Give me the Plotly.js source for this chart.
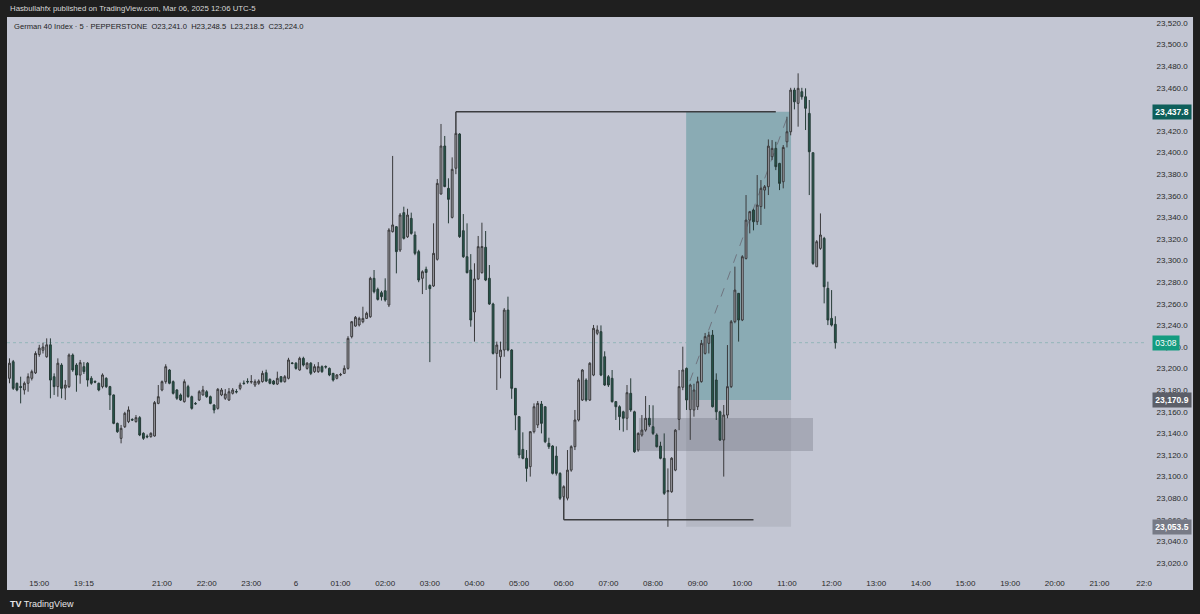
<!DOCTYPE html>
<html>
<head>
<meta charset="utf-8">
<script src="https://cdn.plot.ly/plotly-3.0.1.min.js"></script>
<style>html,body{margin:0;padding:0;background:#1f1f1f;}#chart{width:1200px;height:614px;}</style>
</head>
<body>
<div id="chart"></div>
<script>
// 5-minute candles, first candle index -41 (21:00 = index 0)
const firstIndex = -41;
const openP = [23191,23206.4,23186.4,23183.5,23180.2,23186.4,23191,23196,23213,23217,23211,23222,23192.5,23183.3,23203.3,23182,23183.3,23212.6,23203.3,23194,23201.8,23205,23191,23188.2,23186.4,23183.3,23191,23183.3,23175.6,23149.3,23135.4,23146.2,23150.9,23152.9,23150.9,23154.6,23140.1,23137.4,23137,23137.6,23167.8,
23180.2,23187.9,23198.7,23187.9,23180.2,23175.6,23169.4,23183.3,23174,23167.8,23170.9,23175.6,23178.6,23174,23166.3,23163.2,23175.6,23172.5,23170.9,23177.1,23178.8,23181.7,23186.6,23188.2,23187.5,23184.8,23186.4,23188,23196.2,23190,23188.5,23185.7,23192.5,23187.9,23191,23205.2,23205,23198.7,23209.5,23200.2,23205,23197.2,23197.2,23201.8,23201.9,23200.2,23195.6,23191,23194.2,23195.6,
23200.2,23229.6,23239.4,23240.4,23243.4,23246.5,23248,23283.6,23273.4,23270.3,23272.1,23258.9,23326.8,23331.4,23309.8,23344.4,23322,23339.1,23323.7,23308.3,23283.6,23291.9,23277,23276.5,23301.2,23361.7,23406.1,23366.9,23340,23385.5,23417.2,23327.7,23303.6,23291.3,23252.4,23283,23288.8,23312.3,23283.6,23259.8,23214.1,
23211,23217.2,23254.2,23217.2,23181.7,23155.5,23125.2,23116.9,23109.2,23141.6,23147.8,23167.2,23164.7,23130.8,23128.3,23119,23103,23081.4,23080,23106,23127.7,23152.4,23170.9,23189.4,23170.9,23194,23232.7,23234.2,23211,23192.5,23191,23169.4,23164.7,23160,23154,23177.1,23160,23124.6,23138.5,23143.1,23154,23146.2,23138.5,23128.3,23116.9,23086,23086,23106,23153,
23182.7,23200.2,23162,23161.7,23164.7,23187.9,23214.1,23223.4,23231,23189.4,23160,23133.9,23157,23183.3,23243.4,23269.7,23245,23302,23337.5,23346.8,23336,23350,23365.3,23368.4,23396.2,23403.9,23390,23373,23410,23419.3,23457.9,23445.6,23456.4,23451.7,23436.3,23399.9,23294.3,23311.3,23320.6,23274.3,23246.5,23241.0];
const highP = [23209.5,23208,23187,23192.5,23188,23195.6,23199,23216,23222,23224,23228,23228,23195.6,23209.5,23205,23189.4,23214,23214,23205,23208,23206,23206,23193,23189,23187,23195.6,23192,23184,23176,23150,23147.8,23160,23165,23154,23157,23156,23141,23139,23141,23170,23184.8,
23189,23204,23199.5,23189,23181,23177,23190,23185,23175,23169,23180,23184,23180,23175,23167,23182,23182,23181,23182,23182,23181,23187,23189,23191,23194,23190,23190,23198,23199,23191,23189.5,23197.2,23193,23194,23210,23206,23206,23211,23211,23206,23206,23204,23206,23203,23203,23201,23196,23195,23196,23203,
23230,23244,23248.7,23248,23257.3,23252.7,23285,23291.3,23275,23272,23283.6,23330,23396.9,23332,23344,23349.9,23348,23344.4,23327,23310,23291,23294.4,23278,23334.5,23375.5,23426.5,23415.4,23376.2,23395.6,23418,23418,23343.1,23334.5,23306,23297.5,23322.8,23335.1,23327.4,23295.9,23261,23225,
23225,23256,23266.6,23218,23182,23156,23141,23124.6,23142,23167.8,23170,23170,23165,23136,23129,23128,23104,23092,23124.6,23129,23161.7,23191,23199.5,23191,23206,23240.4,23240,23240,23216,23194,23198.7,23170,23166,23161,23184.8,23191,23161,23141,23157,23174.6,23166.3,23166,23140,23132.3,23140,23107.6,23118,23144,23198.7,
23220.3,23201,23186,23186,23192.5,23226.5,23233,23234.2,23235.7,23195.6,23161,23166.3,23221.8,23245,23294.4,23270,23305,23360.7,23346,23348,23379.2,23374.6,23370,23412.2,23411.6,23410,23390.5,23407,23433.2,23460,23460,23473.4,23460,23459.5,23448.7,23400,23319,23343.7,23322,23280.5,23272.7,23248.5];
const lowP = [23186.4,23180.2,23179,23167.8,23176,23178.6,23189,23195,23211,23214,23210,23172.5,23175.6,23174,23172.5,23171,23182,23197,23178.6,23186,23195,23183.3,23185,23186.5,23179,23181.7,23182,23161.7,23148.5,23140.5,23130.8,23145,23149.5,23151.5,23150,23137.5,23134,23135.5,23136,23137,23167,
23179,23186,23185.5,23176,23171,23170,23168.5,23173,23162,23166.5,23170,23175,23173,23167,23158.6,23162,23174.5,23171,23170,23176,23177,23180,23185,23186,23186,23183,23185,23187,23187.5,23185.5,23185,23184.8,23187,23187,23190,23204,23199,23198,23202,23199,23194,23196,23196,23196,23200,23193,23188,23190,23193,23195,
23199,23228,23238.8,23239,23242,23246,23247,23269.7,23263,23263,23262,23257,23326,23288.2,23308,23319.5,23321,23324,23305,23280,23269,23272.8,23206,23275.6,23300,23361,23368,23334.5,23339,23380,23321,23302.5,23288.2,23238.8,23225,23282,23288,23281,23259,23213,23180.2,
23191,23211,23216,23172,23143,23117,23116,23095.3,23100,23140,23145,23140,23131,23125.6,23102,23101,23078.3,23078,23078,23104.5,23124.6,23151,23170,23169.5,23170,23193,23231,23193,23184,23183,23168.5,23152.4,23143,23141.6,23143,23160,23122,23123,23137,23141.6,23146,23138.5,23127,23116,23083,23053.5,23085,23105,23143,
23180,23161.7,23134,23155.5,23161.7,23187,23213,23214,23164,23152.4,23133,23100,23154,23182,23242,23225,23244,23301,23325.2,23328,23333,23333,23348,23360.7,23393.1,23383.8,23365.3,23366.9,23404.8,23416,23440,23424,23449,23420.9,23360.7,23296,23294,23310,23260.4,23240.3,23239,23218.5];
const closeP = [23205,23181.7,23180.2,23182.5,23186.4,23192.5,23197.2,23214,23219,23220,23222,23189.4,23183.3,23205,23181.7,23184.8,23212.6,23198.7,23194,23205.5,23197.2,23189.4,23186.4,23187.5,23180.2,23194.1,23183.3,23175.6,23149.3,23141.6,23144.7,23158.6,23161.7,23152.4,23154.6,23138.5,23135.4,23136.8,23140.1,23168.5,23174,
23187.9,23201.8,23186.4,23177.1,23172.5,23170.9,23187.9,23174,23163.2,23167.4,23178.6,23180.2,23174,23167.8,23161.7,23180.8,23180.2,23176.5,23178.6,23180.2,23178.4,23184.8,23186.2,23187.7,23188,23187.9,23188.5,23195.6,23188.5,23186.4,23185.7,23191,23187.9,23192.5,23208,23204.8,23200.2,23209.5,23203.3,23205,23195.6,23201.8,23201.8,23197.2,23201.5,23194.1,23189.4,23194.1,23194.5,23200.2,
23228,23243.4,23247.5,23246.5,23246.5,23251.2,23283.6,23271.2,23264.1,23266.6,23263.5,23328.3,23333,23308.3,23342.2,23320.6,23342.2,23325.2,23306.7,23282,23289.7,23289,23274,23306.7,23371.5,23406.1,23368.5,23356.7,23384.5,23417.8,23322.2,23303.6,23288.8,23245,23283,23312.9,23313,23282,23259.8,23214.1,23221.8,
23217.2,23254.2,23217.2,23181.7,23157,23120,23116.9,23107.6,23141.6,23164.7,23167.8,23149.3,23132.3,23127.7,23103,23103,23079.9,23090.7,23106,23127.7,23152.4,23189.4,23198.7,23170.9,23204.9,23237.3,23235.8,23194,23184.8,23184.8,23169.4,23164.7,23155.5,23154,23177.7,23161.7,23123,23140,23143.1,23154,23147.8,23140,23127.7,23116.9,23084.5,23087,23117,23143,23183.3,
23198.7,23170.9,23184.8,23180.2,23187.9,23223.4,23229.6,23231,23164.7,23160,23133.9,23157,23183.3,23243.4,23272.7,23245,23303.6,23337.5,23345.3,23336,23351.4,23366.9,23368.4,23406,23403.9,23387,23371.5,23404.8,23419.3,23457.9,23447,23459.5,23451.7,23441,23400.8,23297.4,23317.5,23323.7,23275.8,23245,23240.3,23224.0];

const timeTickPos = [-33,-21,0,12,24,36,48,60,72,84,96,108,120,132,144,156,168,180,192,204,216,228,240,252,264];
const timeTickText = ["15:00","19:15","21:00","22:00","23:00","6","01:00","02:00","03:00","04:00","05:00","06:00","07:00","08:00","09:00","10:00","11:00","12:00","13:00","14:00","15:00","19:00","20:00","21:00","22:0"];

const targetPrice = 23437.8, entryPrice = 23170.9, stopPrice = 23053.5, lastPrice = 23224.0;

const barIndex = openP.map((_, k) => firstIndex + k);

const FONT = 'Liberation Sans, Arial, sans-serif';
const PANEL = '#c3c6d3';

const trace = {
  type: 'candlestick',
  x: barIndex, open: openP, high: highP, low: lowP, close: closeP,
  increasing: {line: {color: '#3a3a3c', width: 1}, fillcolor: '#a4a5ab'},
  decreasing: {line: {color: '#263b37', width: 1}, fillcolor: '#24584c'},
  whiskerwidth: 0,
  hoverinfo: 'skip',
  showlegend: false
};

const shapes = [
  {type:'rect', xref:'paper', yref:'paper', x0:0, x1:1.0422, y0:-0.0324, y1:1, fillcolor:PANEL, line:{width:0}, layer:'below'},
  // long position: target zone
  {type:'rect', xref:'x', yref:'y', x0:140.9, x1:169.1, y0:entryPrice, y1:targetPrice, fillcolor:'#8aabb4', line:{width:0}, layer:'below'},
  // stop zone
  {type:'rect', xref:'x', yref:'y', x0:140.9, x1:169.1, y0:stopPrice, y1:entryPrice, fillcolor:'#b5b8c4', line:{width:0}, layer:'below'},
  // darker zone
  {type:'rect', xref:'x', yref:'y', x0:128.2, x1:175, y0:23123.7, y1:23154.3, fillcolor:'rgba(100,102,115,0.3)', line:{width:0}, layer:'below'},
  // top level line
  {type:'line', xref:'x', yref:'y', x0:79, x1:165, y0:targetPrice, y1:targetPrice, line:{color:'#3c3d40', width:1.5}, layer:'below'},
  {type:'line', xref:'x', yref:'y', x0:79, x1:79, y0:targetPrice, y1:23418, line:{color:'#3c3d40', width:1.5}, layer:'below'},
  // bottom level line
  {type:'line', xref:'x', yref:'y', x0:108, x1:159, y0:23060, y1:23060, line:{color:'#3c3d40', width:1.5}, layer:'below'},
  {type:'line', xref:'x', yref:'y', x0:108, x1:108, y0:23060, y1:23081, line:{color:'#3c3d40', width:1.5}, layer:'below'},
  // dashed path
  {type:'line', xref:'x', yref:'y', x0:141.9, x1:168.3, y0:23188.5, y1:23434.8, line:{color:'#6f7580', width:1, dash:'dash'}, layer:'below'},
  // current price dotted line
  {type:'line', xref:'paper', yref:'y', x0:0, x1:1, y0:lastPrice, y1:lastPrice, line:{color:'rgba(60,150,140,0.35)', width:1, dash:'dot'}, layer:'below'}
];

function tag(y, text, bg, w) {
  return {xref:'paper', x:1.0062, xanchor:'left', yref:'y', y:y, yanchor:'middle', text:text, showarrow:false,
    bgcolor:bg, font:{color:'#ffffff', size:8.5, family:FONT}, borderpad:2, width:w, align:'center'};
}

const annotations = [
  {xref:'paper', x:0.0009, xanchor:'left', yref:'paper', y:1.0155, yanchor:'middle', showarrow:false,
   text:'Hasbullahfx published on TradingView.com, Mar 06, 2025 12:06 UTC-5', font:{color:'#d9d9d9', size:7.8, family:FONT}},
  {xref:'paper', x:0.0044, xanchor:'left', yref:'paper', y:0.982, yanchor:'middle', showarrow:false,
   text:'German 40 Index · 5 · PEPPERSTONE\u00a0\u00a0O23,241.0\u00a0\u00a0H23,248.5\u00a0\u00a0L23,218.5\u00a0\u00a0C23,224.0', font:{color:'#222222', size:7.6, family:FONT}},
  {xref:'paper', x:0.0009, xanchor:'left', yref:'paper', y:-0.0577, yanchor:'middle', showarrow:false,
   text:'<b>TV</b> TradingView', font:{color:'#e8e8e8', size:9, family:FONT}},
  tag(targetPrice, '<b>23,437.8</b>', '#0e5f5b', 34),
  tag(entryPrice, '<b>23,170.9</b>', '#5c5f69', 34),
  tag(stopPrice, '<b>23,053.5</b>', '#777a86', 34),
  tag(lastPrice, '03:08', '#149c80', 22)
];

const layout = {
  width: 1200, height: 614,
  margin: {l:7, r:55, t:17, b:42, pad:0},
  paper_bgcolor: '#1f1f1f',
  plot_bgcolor: PANEL,
  showlegend: false,
  xaxis: {
    range: [-41.67, 264.25], showgrid:false, zeroline:false, showline:false,
    tickmode:'array', tickvals: timeTickPos, ticktext: timeTickText,
    ticks:'outside', ticklen:3, tickcolor:'rgba(0,0,0,0)',
    tickfont:{size:8, color:'#2a2a2a', family:FONT},
    rangeslider:{visible:false}, fixedrange:true
  },
  yaxis: {
    side:'right', range:[23011.67, 23525.56], showgrid:false, zeroline:false, showline:false,
    tick0:23020, dtick:20, tickformat:',.1f',
    ticks:'outside', ticklen:9, tickcolor:'rgba(0,0,0,0)',
    tickfont:{size:8, color:'#2a2a2a', family:FONT}, fixedrange:true
  },
  shapes: shapes,
  annotations: annotations
};

Plotly.newPlot('chart', [trace], layout, {displayModeBar:false, staticPlot:true});
</script>
</body>
</html>
